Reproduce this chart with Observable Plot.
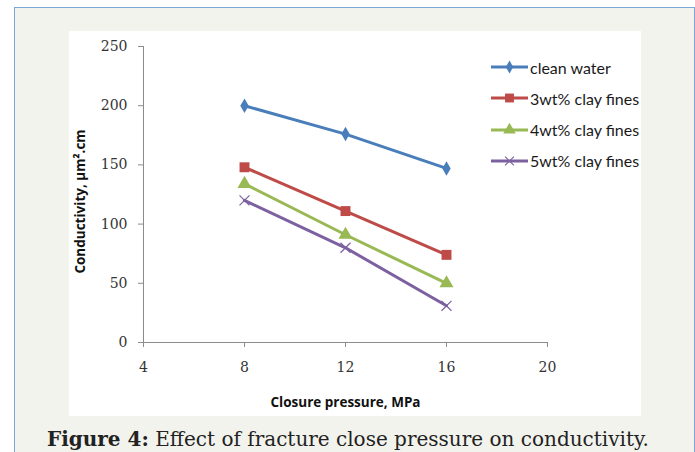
<!DOCTYPE html>
<html>
<head>
<meta charset="utf-8">
<script src="https://cdn.jsdelivr.net/npm/d3@7"></script>
<script src="https://cdn.jsdelivr.net/npm/@observablehq/plot@0.6"></script>
<style>
  html, body { margin: 0; padding: 0; background: #ffffff; width: 695px; height: 452px; overflow: hidden; }
  #frame { position: absolute; left: 14px; top: 7px; width: 679px; height: 460px;
           border-left: 1px solid #7ea7d9; border-top: 1px solid #7ea7d9; border-right: 1px solid #7ea7d9;
           background: #f3f3ee; }
  #panel { position: absolute; left: 69px; top: 31px; width: 572px; height: 385px; background: #ffffff; }
  #legend { position: absolute; left: 491px; top: 57px; font-family: Lato, "Open Sans", sans-serif; font-size: 16px; color: #1a1a1a; }
  .item { display: flex; align-items: center; height: 20px; margin-bottom: 11.3px; white-space: nowrap; }
  .item svg { display: block; margin-right: 2px; }
  #caption { position: absolute; left: 47px; top: 427px; font-family: "DejaVu Serif", serif; font-size: 20px; color: #222; white-space: nowrap; }
  #caption b { font-weight: bold; }
</style>
</head>
<body>
<div id="frame"></div>
<div id="panel"></div>
<div id="legend"></div>
<div id="caption"><b>Figure 4:</b> Effect of fracture close pressure on conductivity.</div>
<script>
const pressure = [8, 12, 16];
const seriesNames = ["clean water", "3wt% clay fines", "4wt% clay fines", "5wt% clay fines"];
const cleanWater = [200, 176, 147];
const clay3 = [148, 111, 74];
const clay4 = [134, 91, 50];
const clay5 = [120, 80, 31];
const seriesColors = ["#4a7ebb", "#be4b48", "#98b954", "#7d60a0"];
const seriesSymbols = ["diamond", "square", "triangle", "times"];
const xTicks = [4, 8, 12, 16, 20];
const yTicks = [0, 50, 100, 150, 200, 250];
const xLabel = "Closure pressure, MPa";
const yLabel = "Conductivity, μm².cm";

const values = [cleanWater, clay3, clay4, clay5];
const data = [];
seriesNames.forEach((s, i) => pressure.forEach((p, j) => data.push({series: s, idx: i, pressure: p, value: values[i][j]})));

const symR = [4.4, 5.6, 5.2, 4.6];

const marks = [
  Plot.ruleX([4], {stroke: "#8c8c8c", strokeWidth: 1}),
  Plot.ruleY([0], {stroke: "#8c8c8c", strokeWidth: 1}),
  Plot.axisX({ticks: xTicks, tickSize: 5, tickPadding: 15, stroke: "#8c8c8c", fill: "#333", label: null,
    fontFamily: "DejaVu Serif", fontSize: 14, fontStretch: "condensed"}),
  Plot.axisY({ticks: yTicks, tickSize: 5, tickPadding: 11, stroke: "#8c8c8c", fill: "#333", label: null,
    fontFamily: "DejaVu Serif", fontSize: 14, fontStretch: "condensed"}),
  Plot.text([xLabel], {frameAnchor: "bottom", textAnchor: "middle", dy: 64, fontFamily: "Open Sans", fontWeight: "bold", fontSize: 13.5, fill: "#111"}),
  Plot.text([yLabel], {frameAnchor: "left", textAnchor: "middle", dx: -63, dy: 7, rotate: -90, fontFamily: "Open Sans", fontWeight: "bold", fontSize: 13.5, fill: "#111"})
];
seriesNames.forEach((s, i) => {
  const d = data.filter(r => r.idx === i);
  marks.push(Plot.line(d, {x: "pressure", y: "value", stroke: seriesColors[i], strokeWidth: 3}));
  const isStroke = seriesSymbols[i] === "times";
  marks.push(Plot.dot(d, {x: "pressure", y: "value", symbol: () => seriesSymbols[i], r: symR[i],
    fill: isStroke ? "none" : seriesColors[i], stroke: isStroke ? seriesColors[i] : "none", strokeWidth: isStroke ? 1.2 : 0}));
});

const chart = Plot.plot({
  width: 572, height: 385,
  marginLeft: 74, marginRight: 94, marginTop: 15, marginBottom: 74,
  x: {domain: [4, 20]},
  y: {domain: [0, 250]},
  style: {background: "transparent", overflow: "visible"},
  marks
});
document.getElementById("panel").appendChild(chart);

// legend
const legend = d3.select("#legend");
seriesNames.forEach((s, i) => {
  const item = legend.append("div").attr("class", "item");
  const svg = item.append("svg").attr("width", 37).attr("height", 14);
  svg.append("line").attr("x1", 0).attr("x2", 37).attr("y1", 7).attr("y2", 7)
    .attr("stroke", seriesColors[i]).attr("stroke-width", 3);
  const symMap = {diamond: d3.symbolDiamond, square: d3.symbolSquare, triangle: d3.symbolTriangle, times: d3.symbolTimes};
  const isStroke = seriesSymbols[i] === "times";
  svg.append("path").attr("transform", "translate(18.5,7)")
    .attr("d", d3.symbol(symMap[seriesSymbols[i]], symR[i] * symR[i] * Math.PI * 0.8)())
    .attr("fill", isStroke ? "none" : seriesColors[i])
    .attr("stroke", isStroke ? seriesColors[i] : "none")
    .attr("stroke-width", isStroke ? 1.2 : 0);
  item.append("span").text(s);
});
</script>
</body>
</html>
